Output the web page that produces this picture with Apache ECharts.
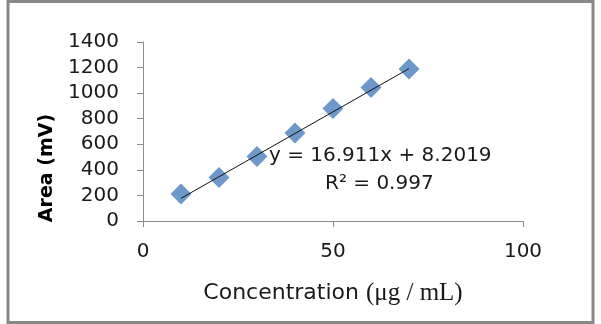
<!DOCTYPE html>
<html>
<head>
<meta charset="utf-8">
<script src="https://cdn.jsdelivr.net/npm/echarts@6/dist/echarts.min.js"></script>
<style>
  html, body { margin: 0; padding: 0; background: #fff; }
  #chart { width: 601px; height: 324px; }
</style>
</head>
<body>
<div id="chart"></div>
<script>
// calibration data
var concentration = [10, 20, 30, 40, 50, 60, 70]
var area = [212, 340, 505, 688, 880, 1045, 1188]
var xTicks = { min: 0, max: 100, interval: 50 }
var yTicks = { min: 0, max: 1400, interval: 200 }
// linear trendline shown on the chart
var slope = 16.911
var intercept = 8.2019
var rSquared = '0.997'

var trendX = [concentration[0], concentration[concentration.length - 1]]
var trendData = trendX.map(function(x) { return [x, slope * x + intercept] })

var chart = echarts.init(document.getElementById('chart'))

var axisColor = '#8c8c8c'
var textColor = '#1a1a1a'
var sans = 'DejaVu Sans'

chart.setOption({
  backgroundColor: '#fff',
  animation: false,
  grid: { left: 143, right: 78, top: 42, bottom: 103 },
  xAxis: {
    type: 'value',
    min: xTicks.min,
    max: xTicks.max,
    interval: xTicks.interval,
    name: '{s|Concentration }{m|(μg / mL)}',
    nameLocation: 'middle',
    nameGap: 60,
    nameTextStyle: {
      rich: {
        s: { fontFamily: sans, fontSize: 22, color: textColor },
        m: { fontFamily: 'Liberation Serif', fontSize: 25, color: textColor }
      }
    },
    splitLine: { show: false },
    axisLine: { lineStyle: { color: axisColor, width: 1 } },
    axisTick: { show: true, length: 6, lineStyle: { color: axisColor } },
    axisLabel: { margin: 21, fontFamily: sans, fontSize: 20, color: textColor }
  },
  yAxis: {
    type: 'value',
    min: yTicks.min,
    max: yTicks.max,
    interval: yTicks.interval,
    splitLine: { show: false },
    axisLine: { show: true, lineStyle: { color: axisColor, width: 1 } },
    axisTick: { show: true, length: 6, lineStyle: { color: axisColor } },
    axisLabel: {
      margin: 24,
      fontFamily: sans,
      fontSize: 20,
      color: textColor,
      formatter: function(v) { return String(v) }
    }
  },
  series: [
    {
      type: 'scatter',
      data: concentration.map(function(x, i) { return [x, area[i]] }),
      symbol: 'diamond',
      symbolSize: 21,
      itemStyle: { color: '#4a7ebb' },
      z: 2
    },
    {
      type: 'line',
      data: trendData,
      symbol: 'none',
      lineStyle: { color: '#111', width: 1 },
      z: 3
    }
  ],
  graphic: [
    {
      type: 'rect',
      shape: { x: 8, y: 1.5, width: 585, height: 321 },
      style: { fill: 'none', stroke: '#888', lineWidth: 3 },
      silent: true
    },
    {
      // y axis title, sits lower than the axis middle like in the source
      type: 'text',
      x: 47,
      y: 168,
      rotation: Math.PI / 2,
      style: {
        text: 'Area (mV)',
        fontFamily: sans,
        fontWeight: 'bold',
        fontSize: 19,
        fill: '#000',
        align: 'center',
        verticalAlign: 'middle'
      },
      z: 10
    },
    {
      type: 'text',
      left: 269,
      top: 146,
      style: {
        text: 'y = ' + slope + 'x + ' + intercept,
        fontFamily: sans,
        fontSize: 20,
        fill: textColor
      },
      z: 10
    },
    {
      type: 'text',
      left: 325,
      top: 174,
      style: {
        text: 'R² = ' + rSquared,
        fontFamily: sans,
        fontSize: 20,
        fill: textColor
      },
      z: 10
    }
  ]
})
</script>
</body>
</html>
